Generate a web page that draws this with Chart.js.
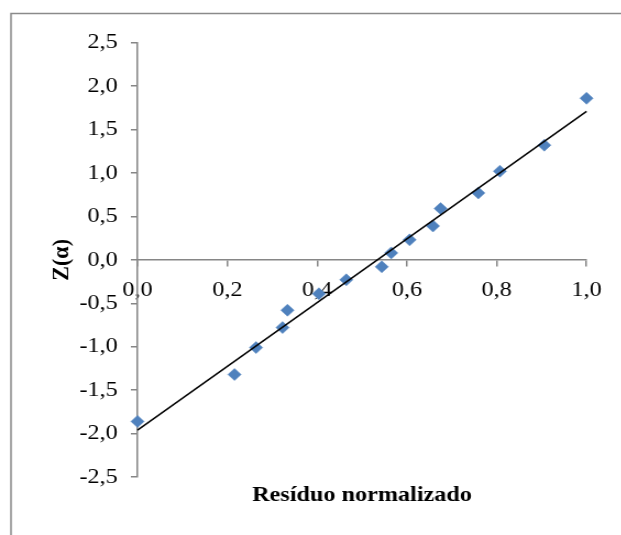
<!DOCTYPE html>
<html>
<head>
<meta charset="utf-8">
<script src="https://cdn.jsdelivr.net/npm/chart.js@4/dist/chart.umd.min.js"></script>
<style>
  html, body { margin: 0; padding: 0; background: #fff; overflow: hidden; }
  #wrap { width: 565px; height: 535px; transform: scaleX(1.1); transform-origin: 0 0; }
</style>
</head>
<body>
<div id="wrap"><canvas id="chart" width="565" height="535"></canvas></div>
<script>
// normalised residuals and their normal scores
const residuo = [0.00, 0.216, 0.264, 0.323, 0.334, 0.404, 0.465, 0.544, 0.565, 0.606, 0.658, 0.675, 0.759, 0.807, 0.906, 1.00];
const zAlpha = [-1.86, -1.32, -1.01, -0.78, -0.58, -0.39, -0.23, -0.08, 0.08, 0.23, 0.39, 0.59, 0.77, 1.02, 1.32, 1.86];
// linear trend line end points
const trendX = [0, 1];
const trendY = [-1.96, 1.71];

const axisGray = "#868686";
const serif = "'Liberation Serif', 'Times New Roman', serif";

Chart.defaults.font.family = serif;
Chart.defaults.color = "#000";

const comma = (v) => Number(v).toFixed(1).replace(".", ",");

// grey frame around the chart
const frame = {
  id: "frame",
  beforeDraw(chart) {
    const ctx = chart.ctx;
    ctx.save();
    ctx.strokeStyle = "#8a8a8a";
    ctx.lineWidth = 1.5;
    ctx.beginPath();
    ctx.moveTo(10, chart.height + 5);
    ctx.lineTo(10, 13.5);
    ctx.lineTo(chart.width + 5, 13.5);
    ctx.stroke();
    ctx.restore();
  }
};

new Chart(document.getElementById("chart"), {
  type: "scatter",
  plugins: [frame],
  data: {
    datasets: [
      {
        // trend line on top of the points
        type: "line",
        data: trendX.map((x, i) => ({ x: x, y: trendY[i] })),
        borderColor: "#000",
        borderWidth: 1.5,
        pointRadius: 0,
        fill: false,
        clip: false
      },
      {
        data: residuo.map((x, i) => ({ x: x, y: zAlpha[i] })),
        pointStyle: "rectRot",
        pointRadius: 6,
        pointBackgroundColor: "#4F81BD",
        pointBorderColor: "#4F81BD",
        pointBorderWidth: 0.5,
        clip: false
      }
    ]
  },
  options: {
    responsive: false,
    animation: false,
    events: [],
    layout: { padding: { left: 0, top: 42.7, right: 31.8, bottom: 26.6 } },
    plugins: {
      legend: { display: false },
      tooltip: { enabled: false },
      title: {
        display: true,
        text: "Resíduo normalizado",
        position: "bottom",
        fullSize: false,
        color: "#000",
        font: { family: serif, size: 22, weight: "bold" },
        padding: { top: 5, bottom: 0 }
      }
    },
    scales: {
      x: {
        type: "linear",
        position: { y: 0 },
        min: 0,
        max: 1,
        grid: { drawOnChartArea: false, drawTicks: true, tickLength: 6, color: axisGray, lineWidth: 1.5 },
        border: { color: axisGray, width: 1.5 },
        ticks: { stepSize: 0.2, padding: 11, font: { size: 22 }, maxRotation: 0, callback: comma }
      },
      y: {
        type: "linear",
        position: "left",
        min: -2.5,
        max: 2.5,
        afterFit: (s) => { s.width = 125; },
        grid: { drawOnChartArea: false, drawTicks: true, tickLength: 6, color: axisGray, lineWidth: 1.5 },
        border: { color: axisGray, width: 1.5 },
        ticks: { stepSize: 0.5, padding: 12, font: { size: 22 }, callback: comma },
        title: {
          display: true,
          text: "Z(α)",
          color: "#000",
          font: { family: serif, size: 22, weight: "bold" },
          padding: { top: 43, bottom: 0 }
        }
      }
    }
  }
});
</script>
</body>
</html>
